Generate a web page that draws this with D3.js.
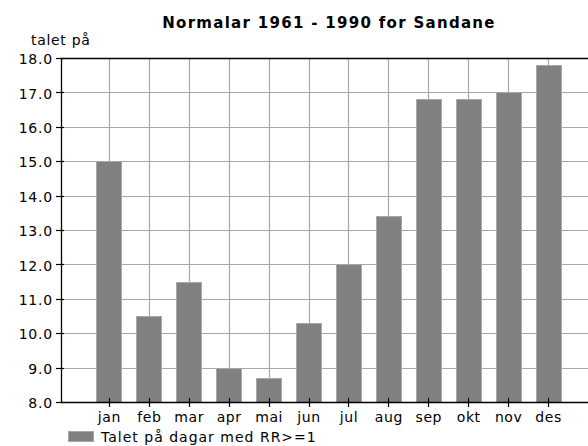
<!DOCTYPE html>
<html>
<head>
<meta charset="utf-8">
<script src="https://cdn.jsdelivr.net/npm/d3@7"></script>
<style>
  html, body { margin: 0; padding: 0; background: #fff; }
  svg { display: block; }
  text { font-family: "DejaVu Sans", sans-serif; fill: #000; }
</style>
</head>
<body>
<svg id="chart" width="588" height="446"></svg>
<script>
// Monthly normals 1961–1990, Sandane: number of days with precipitation >= 1 mm
const months = ["jan", "feb", "mar", "apr", "mai", "jun", "jul", "aug", "sep", "okt", "nov", "des"];
const days = [15.0, 10.5, 11.5, 9.0, 8.7, 10.3, 12.0, 13.4, 16.8, 16.8, 17.0, 17.8];
const yTicks = [8, 9, 10, 11, 12, 13, 14, 15, 16, 17, 18];
const title = "Normalar 1961 - 1990 for Sandane";
const yLabel = "talet på";
const seriesName = "Talet på dagar med RR>=1";

const svg = d3.select("#chart");
const plotL = 61, plotR = 588, plotT = 58, plotB = 402;

const x = d3.scaleLinear().domain([-1.2, 12]).range([plotL, plotR]);
const y = d3.scaleLinear().domain([8, 18]).range([plotB, plotT]);
const barW = 25;

// grid
const grid = svg.append("g").attr("stroke", "#a6a6a6").attr("stroke-width", 1.2);
grid.selectAll("line.h").data(yTicks).join("line")
  .attr("x1", plotL).attr("x2", plotR)
  .attr("y1", d => Math.round(y(d)) + 0.5).attr("y2", d => Math.round(y(d)) + 0.5);
grid.selectAll("line.v").data(months).join("line")
  .attr("x1", (d, i) => Math.round(x(i)) + 0.5).attr("x2", (d, i) => Math.round(x(i)) + 0.5)
  .attr("y1", plotT).attr("y2", plotB);

// bars
svg.append("g").selectAll("rect").data(days).join("rect")
  .attr("x", (d, i) => Math.round(x(i) - barW / 2) + 0.5)
  .attr("y", d => Math.round(y(d)) + 0.5)
  .attr("width", barW)
  .attr("height", d => Math.round(y(8)) - Math.round(y(d)))
  .attr("fill", "#808080")
  .attr("stroke", "#a8a8a8")
  .attr("stroke-width", 1);

// frame lines: top, left, bottom
const frame = svg.append("g").attr("stroke", "#000").attr("stroke-width", 1.3);
frame.append("line").attr("x1", plotL).attr("x2", plotR).attr("y1", plotT + 0.5).attr("y2", plotT + 0.5);
frame.append("line").attr("x1", plotL + 0.5).attr("x2", plotL + 0.5).attr("y1", plotT).attr("y2", plotB + 1);
frame.append("line").attr("x1", plotL).attr("x2", plotR).attr("y1", plotB + 0.5).attr("y2", plotB + 0.5);

// y axis
const yAxis = d3.axisLeft(y).tickValues(yTicks).tickFormat(d3.format(".1f")).tickSize(0).tickPadding(8);
const gy = svg.append("g").attr("transform", `translate(${plotL},0)`).call(yAxis);
gy.select(".domain").remove();
gy.selectAll("text")
  .attr("font-size", 14).attr("letter-spacing", 0.8)
  .attr("font-family", "DejaVu Sans, sans-serif").attr("fill", "#000")
  .attr("dy", "0.4em");
svg.append("g").selectAll("line").data(yTicks).join("line")
  .attr("x1", plotL - 5).attr("x2", plotL + 3)
  .attr("y1", d => Math.round(y(d)) + 0.5).attr("y2", d => Math.round(y(d)) + 0.5)
  .attr("stroke", "#000").attr("stroke-width", 1.2);

// x axis
const xAxis = d3.axisBottom(x).tickValues(d3.range(12)).tickFormat(i => months[i]).tickSize(0).tickPadding(0);
const gx = svg.append("g").attr("transform", `translate(0,${plotB})`).call(xAxis);
gx.select(".domain").remove();
gx.selectAll("text")
  .attr("font-size", 14).attr("letter-spacing", 0.6)
  .attr("font-family", "DejaVu Sans, sans-serif").attr("fill", "#000")
  .attr("y", 20).attr("dy", 0);
svg.append("g").selectAll("line").data(months).join("line")
  .attr("x1", (d, i) => Math.round(x(i)) + 0.5).attr("x2", (d, i) => Math.round(x(i)) + 0.5)
  .attr("y1", plotB - 4).attr("y2", plotB + 5)
  .attr("stroke", "#000").attr("stroke-width", 1.2);

// title and axis label
svg.append("text").attr("x", 329).attr("y", 28).attr("text-anchor", "middle")
  .attr("font-size", 15).attr("font-weight", "bold").attr("letter-spacing", 1.3).text(title);
svg.append("text").attr("x", 31).attr("y", 45).attr("font-size", 14).attr("letter-spacing", 0.7).text(yLabel);

// legend
svg.append("rect").attr("x", 68.5).attr("y", 431.5).attr("width", 25).attr("height", 10)
  .attr("fill", "#808080").attr("stroke", "#a8a8a8");
svg.append("text").attr("x", 101).attr("y", 442).attr("font-size", 14).attr("letter-spacing", 1).text(seriesName);
</script>
</body>
</html>
